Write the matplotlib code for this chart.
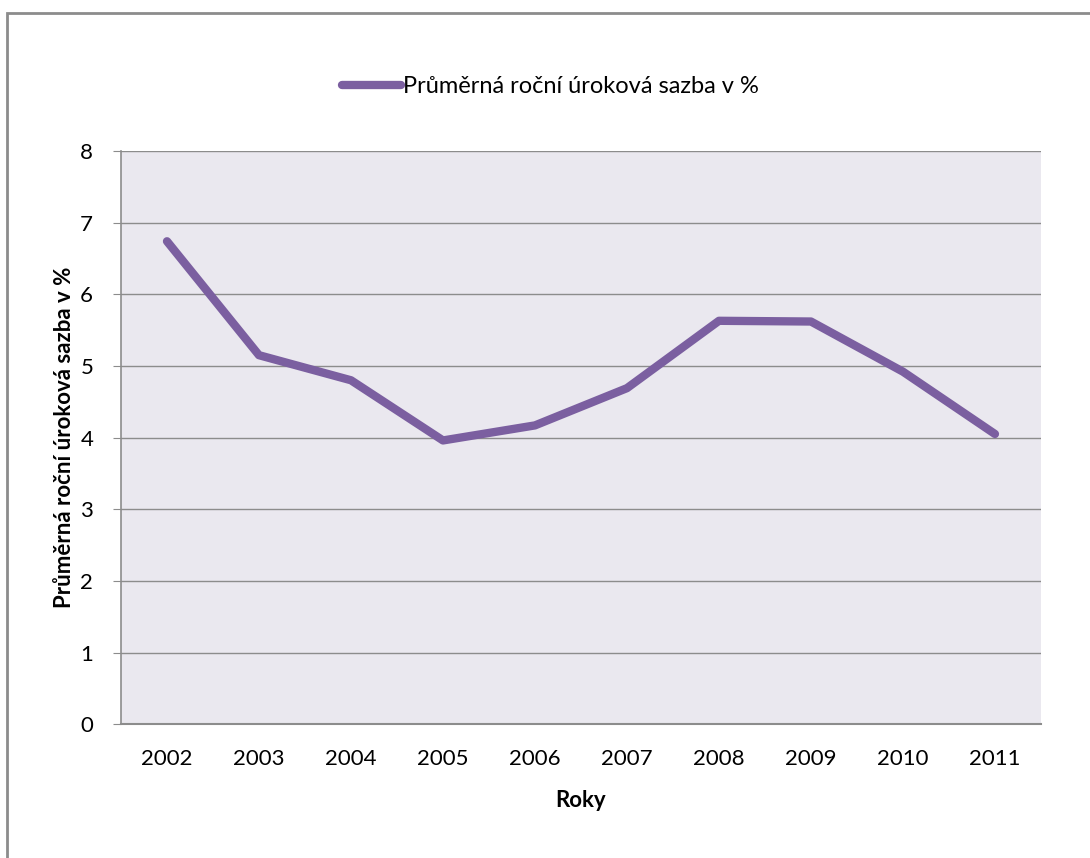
import matplotlib
matplotlib.use("Agg")
import matplotlib.pyplot as plt
from matplotlib.patches import Rectangle

# data
years = ["2002", "2003", "2004", "2005", "2006", "2007", "2008", "2009", "2010", "2011"]
rates = [6.74, 5.15, 4.80, 3.96, 4.17, 4.69, 5.63, 5.62, 4.92, 4.05]
series_name = "Průměrná roční úroková sazba v %"

plt.rcParams['font.family'] = ['Lato', 'DejaVu Sans']

fig = plt.figure(figsize=(10.9, 8.58), dpi=100)
ax = fig.add_axes([0.111, 0.156, 0.844, 0.668])

# outer chart border
fig.patches.append(Rectangle((7 / 1090, -0.05), 1.1, (858 - 13) / 858 + 0.05,
                             transform=fig.transFigure, fill=False,
                             edgecolor="#8c8c8c", linewidth=2))

ax.set_facecolor("#eae8ef")
x = range(len(years))
ax.plot(x, rates, color="#7b5fa0", linewidth=6, solid_capstyle="round",
        solid_joinstyle="round", label=series_name)

ax.set_xlim(-0.5, len(years) - 0.5)
ax.set_ylim(0, 8)
ax.set_yticks(range(0, 9))
ax.set_xticks(list(x))
ax.set_xticklabels(years)
ax.yaxis.grid(True, color="#8c8c8c", linewidth=1)
ax.set_axisbelow(True)

for side in ["top", "right"]:
    ax.spines[side].set_visible(False)
ax.spines["left"].set_color("#8c8c8c")
ax.spines["bottom"].set_color("#8c8c8c")
ax.spines["left"].set_linewidth(1.2)
ax.spines["bottom"].set_linewidth(1.5)

ax.tick_params(axis="y", length=6, color="#8c8c8c", labelsize=16, pad=14)
ax.tick_params(axis="x", length=0, labelsize=16, pad=18)

ax.set_xlabel("Roky", fontsize=16, fontweight="bold", labelpad=15)
ax.set_ylabel(series_name, fontsize=16, fontweight="bold", labelpad=4)

fig.legend(loc="center", bbox_to_anchor=(0.505, 0.899), frameon=False,
           fontsize=17, handlelength=2.5, handletextpad=0.1)

fig.savefig("out.png", dpi=100)
